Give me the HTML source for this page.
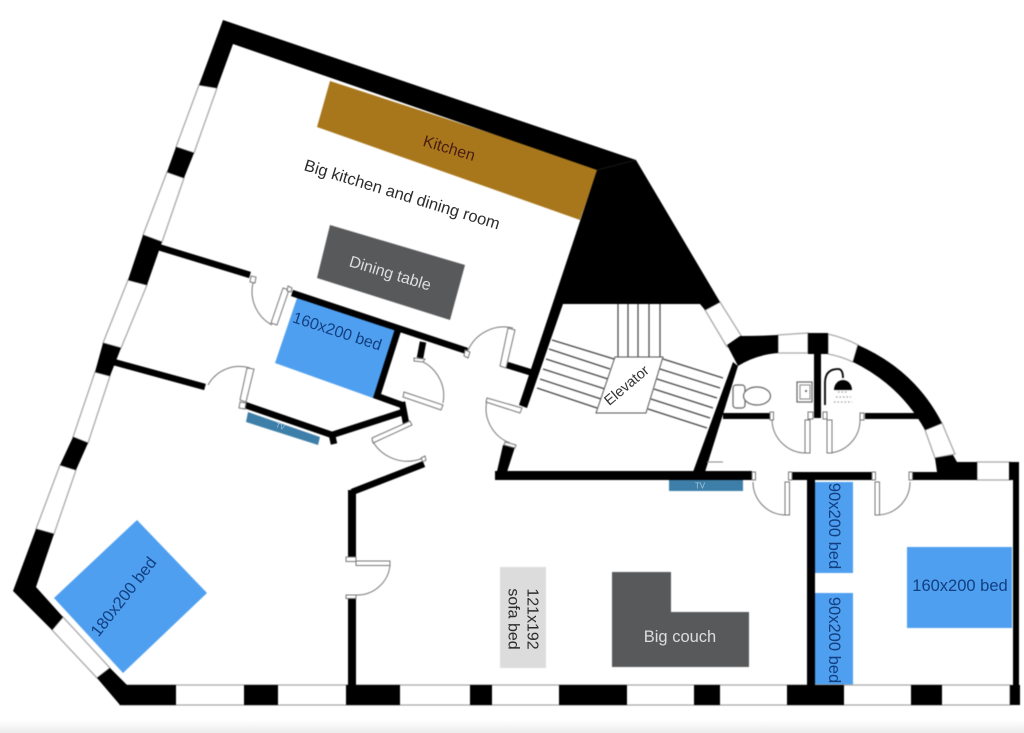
<!DOCTYPE html>
<html><head><meta charset="utf-8"><style>
html,body{margin:0;padding:0;background:#fff;width:1024px;height:733px;overflow:hidden}
svg{display:block}
text{font-family:"Liberation Sans",sans-serif;text-anchor:middle;dominant-baseline:central}
.w{fill:#fff;stroke:#aaa;stroke-width:1.3}
.d{fill:#fff;stroke:#777;stroke-width:1}
.a{fill:none;stroke:#777;stroke-width:1}
.s{stroke:#444;stroke-width:1.2;fill:none}
.i{stroke:#000;stroke-width:6.5;fill:none}
</style></head><body>
<svg width="1024" height="733" viewBox="0 0 1024 733" xmlns="http://www.w3.org/2000/svg">
<defs><linearGradient id="g" x1="0" y1="0" x2="0" y2="1"><stop offset="0" stop-color="#fff"/><stop offset="1" stop-color="#ececec"/></linearGradient></defs>
<rect x="0" y="720" width="1024" height="13" fill="url(#g)"/>
<g style="filter:blur(.5px)">
<!-- furniture -->
<polygon points="330,81 598,168 580,220 317,127" fill="#a8771c"/>
<polygon points="330,225 465,265 450,320 317,278" fill="#58595b"/>
<polygon points="297,298 396,330 373,398 275,363" fill="#4f9ff0"/>
<polygon points="137,520 207,593 123,673 54,598" fill="#4f9ff0"/>
<rect x="815" y="482" width="38" height="91" fill="#4f9ff0"/>
<rect x="815" y="593" width="38" height="93" fill="#4f9ff0"/>
<rect x="907" y="547" width="105" height="81" fill="#4f9ff0"/>
<rect x="500" y="567" width="46" height="101" fill="#dcdcdc"/>
<polygon points="612,572 671,572 671,612 749,612 749,667 612,667" fill="#58595b"/>
<polygon points="248,412 320,437 318,445 246,422" fill="#3d7fa8"/>
<rect x="669" y="480" width="74" height="11" fill="#3d7fa8"/>

<!-- windows -->
<polygon class="w" points="199,85 217,88 194,153 176,147"/>
<polygon class="w" points="167,172 184,178 162,242 143,235"/>
<polygon class="w" points="128,280 147,285 121,348 103,343"/>
<polygon class="w" points="95,372 110,376 88,443 73,437"/>
<polygon class="w" points="60,465 76,470 54,534 36,529"/>
<polygon class="w" points="52,630 63,617 110,668 97,678"/>
<rect class="w" x="120" y="685" width="890" height="20"/>
<polygon class="w" points="705,310 720,302 742,337 727,347"/>
<path class="w" d="M778,335 L808,333 L808,353 L778,353Z"/>
<path class="w" d="M828,334 Q845,338 858,345 L853,362 Q840,356 828,354Z"/>
<polygon class="w" points="925,430 942,423 955,454 935,458"/>
<rect class="w" x="977" y="462" width="33" height="18"/>

<!-- outer walls -->
<g fill="#000">
<polygon points="223,20 636,160 597,170 233,44 217,88 199,85"/>
<polygon points="176,147 194,153 184,178 167,172"/>
<polygon points="143,235 162,242 147,285 128,280"/>
<polygon points="103,343 121,348 110,376 95,372"/>
<polygon points="73,437 88,443 76,470 60,465"/>
<polygon points="36,529 54,534 36,587 63,617 52,630 13,591"/>
<polygon points="97,678 110,668 127,685 176,685 176,705 120,705"/>
<rect x="244" y="685" width="34" height="20"/>
<rect x="346" y="685" width="54" height="20"/>
<rect x="470" y="685" width="22" height="20"/>
<rect x="559" y="685" width="68" height="20"/>
<rect x="694" y="685" width="26" height="20"/>
<rect x="787" y="685" width="57" height="20"/>
<rect x="911" y="685" width="31" height="20"/>
<rect x="1010" y="685" width="10" height="20"/>
<polygon points="636,160 720,302 705,310 700,304 563,304 527,408 519,405 597,170"/>
<path d="M727,345 L740,336 Q760,336 778,335 L778,353 Q755,355 738,366Z"/>
<rect x="808" y="333" width="20" height="21"/>
<path d="M858,345 Q915,370 942,423 L925,430 Q900,385 853,362Z"/>
<polygon points="935,458 953,455 957,462 977,462 977,480 912,480 912,472 937,472"/>
<rect x="1009" y="462" width="10" height="18"/>
<rect x="1013" y="480" width="6" height="206"/>
<polygon points="733,362 738,366 705,472 693,472"/>
<rect x="495" y="471" width="257" height="9"/>
<polygon points="503,445 515,447 507,472 495,480"/>
<rect x="792" y="472" width="80" height="8"/>
<rect x="807" y="480" width="8" height="206"/>
<rect x="348" y="490" width="8" height="67"/>
<rect x="348" y="597" width="8" height="88"/>
<rect x="814" y="354" width="7" height="64"/>
<rect x="723" y="413" width="47" height="6"/>
<rect x="865" y="413" width="55" height="6"/>
</g>
<!-- interior walls -->
<path class="i" d="M155,246 L250,275"/>
<path class="i" d="M110,361 L205,387"/>
<path class="i" d="M292,293 L467,351"/>
<path class="i" d="M398,330 L377,396 L402,405"/>
<path class="i" d="M423,342 L420,358"/>
<path class="i" d="M245,405 L332,435 L403,412"/>
<path class="i" d="M332,435 L334,444"/>
<path class="i" d="M402,402 L406,423"/>
<path class="i" d="M352,492 L424,464"/>
<path class="i" d="M507,365 L533,373"/>

<!-- doors -->
<path class="a" d="M253,283 A38,38 0 0 0 272,325"/>
<polygon class="d" points="283,288 289,290 277,325 271,323"/>
<polygon class="d" points="251,276 256,277 255,283 250,282"/>
<polygon class="d" points="288,286 292,288 291,292 287,291"/>
<path class="a" d="M250,368 A36,36 0 0 0 208,385"/>
<polygon class="d" points="247,368 254,369 246,402 240,400"/>
<polygon class="d" points="240,402 246,403 245,409 239,408"/>
<path class="a" d="M415,359 A38,38 0 0 1 443,403"/>
<polygon class="d" points="404,392 443,405 441,410 403,397"/>
<polygon class="d" points="414,358 425,359 423,362 414,361"/>
<path class="a" d="M372,440 A40,40 0 0 0 423,458"/>
<polygon class="d" points="372,438 410,421 412,425 373,443"/>
<polygon class="d" points="421,458 425,456 426,460 423,462"/>
<path class="a" d="M467,353 A39,39 0 0 1 513,328"/>
<polygon class="d" points="508,328 515,330 506,368 500,366"/>
<polygon class="d" points="465,350 470,352 468,358 464,356"/>
<path class="a" d="M487,400 A37,37 0 0 0 510,443"/>
<polygon class="d" points="487,398 522,408 520,413 486,402"/>
<polygon class="d" points="505,442 516,445 515,448 504,445"/>
<path class="a" d="M772,420 A34,34 0 0 0 807,453"/>
<rect class="d" x="805" y="420" width="5" height="33"/>
<rect class="d" x="770" y="412" width="3.5" height="8"/>
<path class="a" d="M828,453 A33,33 0 0 0 860,420"/>
<rect class="d" x="827" y="420" width="5" height="33"/>
<rect class="d" x="860" y="413" width="4" height="7"/>
<rect class="d" x="808" y="412" width="5" height="7"/>
<rect class="d" x="823" y="412" width="4" height="7"/>
<path class="a" d="M753,482 A33,33 0 0 0 785,515"/>
<rect class="d" x="785" y="482" width="4.5" height="33"/>
<rect class="d" x="752" y="472" width="3.5" height="8"/>
<rect class="d" x="788.5" y="472" width="3.5" height="8"/>
<path class="a" d="M877,515 A33,33 0 0 0 910,482"/>
<rect class="d" x="875" y="482" width="4.5" height="33"/>
<rect class="d" x="872" y="472" width="3.5" height="8"/>
<rect class="d" x="909" y="472" width="3.5" height="8"/>
<path class="a" d="M390,565 A33,33 0 0 1 356,595"/>
<rect class="d" x="356" y="561" width="34" height="4.5"/>
<rect class="d" x="346" y="557" width="10" height="4.5"/>
<rect class="d" x="346" y="595" width="10" height="3.5"/>

<!-- stairs -->
<g class="s">
<path d="M618,304V357M628,304V357M638,304V357M649,304V357M660,304V357"/>
<path d="M552,340L614,359M549,349L610,369M546,359L608,379M543,369L605,389M540,379L601,399M537,388L597,408"/>
<path d="M663,359L723,378M660,369L720,388M657,379L717,398M654,389L713,408M651,399L710,418M648,409L707,428"/>
</g>
<polygon points="615,357 663,357 646,413 596,413" fill="#fff" stroke="#555" stroke-width="1"/>
<path d="M707,462H723" stroke="#888" stroke-width="1"/>

<!-- toilet / sink / shower -->
<rect x="733" y="385" width="12" height="23" rx="3" fill="#fff" stroke="#666" stroke-width="1.2"/>
<ellipse cx="757" cy="396" rx="13.5" ry="9" fill="#fff" stroke="#666" stroke-width="1.2"/>
<rect x="797" y="382" width="15" height="20" fill="#fff" stroke="#666" stroke-width="1.2"/>
<rect x="800" y="385" width="10" height="14" fill="#fff" stroke="#888" stroke-width="1"/>
<circle cx="806" cy="391" r="1" fill="#444"/>
<path d="M825,405 V383 Q825,369 838,369 Q843,369 843,378" fill="none" stroke="#000" stroke-width="1.8"/>
<path d="M834,390 A9,10 0 0 1 852,390Z" fill="#000"/>
<g stroke="#999" stroke-width="1.2" stroke-dasharray="1.5 2" fill="none">
<path d="M838,392H848M836,397H851M834,402H852"/>
</g>
</g>

<!-- labels -->
<text transform="translate(449,149) rotate(17)" font-size="16" fill="#4a1c14">Kitchen</text>
<text transform="translate(402,195) rotate(17)" font-size="16.500" fill="#2c2c2c">Big kitchen and dining room</text>
<text transform="translate(390,274) rotate(17)" font-size="16" fill="#ddd">Dining table</text>
<text transform="translate(337,332) rotate(18)" font-size="16" fill="#123f80">160x200 bed</text>
<text transform="translate(124,597) rotate(-52)" font-size="16.500" fill="#123f80">180x200 bed</text>
<text transform="translate(627,386) rotate(-40)" font-size="14.500" fill="#333">Elevator</text>
<text transform="translate(280,427) rotate(18)" font-size="7" fill="#a5c6de">TV</text>
<text x="700" y="486" font-size="8" fill="#a5c6de">TV</text>
<text transform="translate(834,526) rotate(90)" font-size="16.500" fill="#123f80">90x200 bed</text>
<text transform="translate(834,640) rotate(90)" font-size="16.500" fill="#123f80">90x200 bed</text>
<text x="960" y="586" font-size="16.500" fill="#123f80">160x200 bed</text>
<text transform="translate(532,619) rotate(90)" font-size="16" fill="#2c2c2c">121x192</text>
<text transform="translate(513,619) rotate(90)" font-size="16" fill="#2c2c2c">sofa bed</text>
<text x="680" y="637" font-size="16.500" fill="#ddd">Big couch</text>
</svg>
</body></html>
